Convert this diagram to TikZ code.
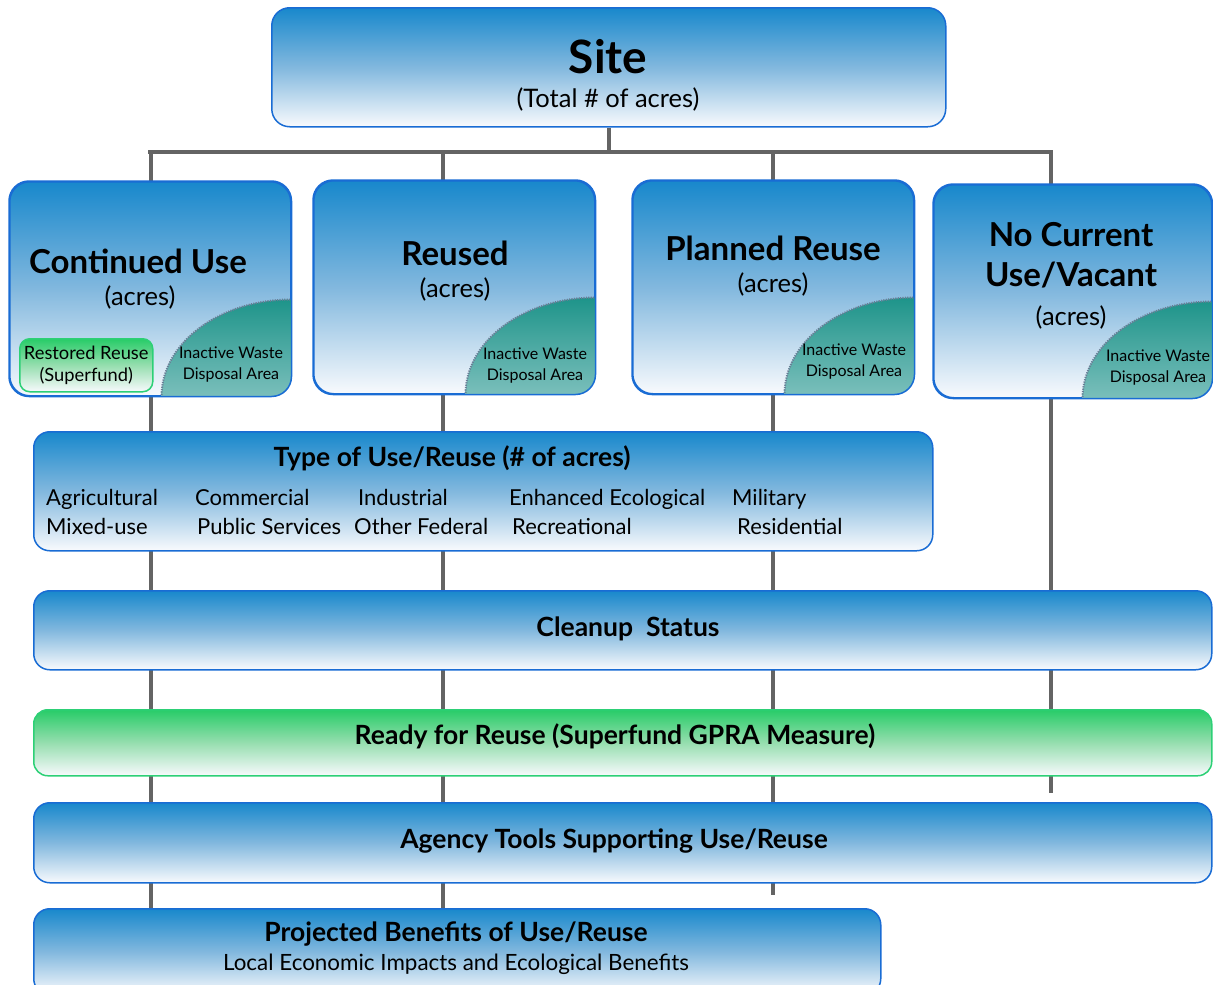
\documentclass[tikz,border=0pt]{standalone}
\usepackage{fontspec}
\setmainfont{Lato}
\usetikzlibrary{backgrounds}

\definecolor{boxblue}{RGB}{24,136,204}
\definecolor{boxmid}{RGB}{130,184,222}
\definecolor{boxpale}{RGB}{248,250,253}
\definecolor{edgeblue}{RGB}{25,108,212}
\definecolor{leafgreen}{RGB}{40,204,104}
\definecolor{leafmid}{RGB}{150,222,175}
\definecolor{edgegreen}{RGB}{45,208,118}
\definecolor{wastetop}{RGB}{30,148,138}
\definecolor{wastebot}{RGB}{215,234,236}
\definecolor{wasteedge}{RGB}{105,125,150}
\definecolor{linkgray}{RGB}{100,100,100}

\tikzset{
  panel/.style={draw=edgeblue, line width=1.5pt, rounded corners=#1,
    top color=boxblue, bottom color=boxpale, middle color=boxmid,
    inner sep=0pt, anchor=north west},
  panel/.default=16pt,
  greenpanel/.style={draw=edgegreen, line width=1.5pt, rounded corners=#1,
    top color=leafgreen, bottom color=boxpale, middle color=leafmid,
    inner sep=0pt, anchor=north west},
  greenpanel/.default=14pt,
  rim/.style={draw=edgeblue, line width=1.5pt, rounded corners=20pt},
  waste/.style={top color=wastetop, bottom color=wastebot},
  wasterim/.style={draw=wasteedge, line width=2pt, dash pattern=on 1.2pt off 1.2pt},
  link/.style={draw=linkgray, line width=4pt},
  label/.style={inner sep=0pt, text=black},
  bigtitle/.style={label, font=\bfseries\fontsize{46}{50}\selectfont},
  coltitle/.style={label, font=\bfseries\fontsize{33}{40}\selectfont, align=center},
  sub/.style={label, font=\fontsize{25.5}{30}\selectfont},
  wastetext/.style={label, font=\fontsize{16}{21}\selectfont, align=center},
  bartitle/.style={label, font=\bfseries\fontsize{26.5}{30}\selectfont},
  item/.style={label, font=\fontsize{22}{26}\selectfont, anchor=mid west},
}

\newcommand{\wastecorner}[1]{%
  \begin{scope}
    \clip[rounded corners=20pt] (#1.south west) rectangle (#1.north east);
    \shade[waste] (#1.south east) ellipse [x radius=130, y radius=97];
    \draw[wasterim] (#1.south east) ellipse [x radius=130, y radius=97];
  \end{scope}
  \draw[rim] (#1.south west) rectangle (#1.north east);}

\begin{document}
\begin{tikzpicture}[x=1pt, y=-1pt]
\useasboundingbox (0,0) rectangle (1213,985);

% top box
\node[panel=18pt, minimum width=674pt, minimum height=119pt] (site) at (271,7) {};
\node[bigtitle] (sitet) at (608,57) {Site};
\node[sub] (sites) at (608,99) {(Total \# of acres)};

% the four land-use columns
\node[panel=20pt, minimum width=281pt, minimum height=214pt] (cu) at (9,181) {};
\node[panel=20pt, minimum width=281pt, minimum height=213pt] (ru) at (313,180) {};
\node[panel=20pt, minimum width=281pt, minimum height=213pt] (pr) at (632,180) {};
\node[panel=20pt, minimum width=278pt, minimum height=213pt] (nc) at (933,184) {};

\wastecorner{cu}
\wastecorner{ru}
\wastecorner{pr}
\wastecorner{nc}

\node[coltitle] (cut) at (138,261) {Continued Use};
\node[sub] (cus) at (140,297) {(acres)};
\node[coltitle] (rut) at (455,253) {Reused};
\node[sub] (rus) at (455,289) {(acres)};
\node[coltitle] (prt) at (773,248) {Planned Reuse};
\node[sub] (prs) at (773,284) {(acres)};
\node[coltitle] (nct) at (1071,255) {No Current\\Use/Vacant};
\node[sub] (ncs) at (1071,317) {(acres)};

\node[wastetext] (cuw) at (231,365) {Inactive Waste\\Disposal Area};
\node[wastetext] (ruw) at (535,366) {Inactive Waste\\Disposal Area};
\node[wastetext] (prw) at (854,362) {Inactive Waste\\Disposal Area};
\node[wastetext] (ncw) at (1158,368) {Inactive Waste\\Disposal Area};

\node[greenpanel=10pt, minimum width=133pt, minimum height=53pt] (rr) at (19,338) {};
\node[wastetext, font=\fontsize{18.3}{22}\selectfont] (rrt) at (rr.center) {Restored Reuse\\(Superfund)};

% type of use
\node[panel, minimum width=899pt, minimum height=119pt] (tu) at (33,431) {};
\node[bartitle] (tut) at (452,458) {Type of Use/Reuse (\# of acres)};
\node[item] (i1) at (46,503) {Agricultural};
\node[item] (i2) at (195,503) {Commercial};
\node[item] (i3) at (358,503) {Industrial};
\node[item] (i4) at (509,503) {Enhanced Ecological};
\node[item] (i5) at (732,503) {Military};
\node[item] (i6) at (46,532) {Mixed-use};
\node[item] (i7) at (197,532) {Public Services};
\node[item] (i8) at (354,532) {Other Federal};
\node[item] (i9) at (512,532) {Recreational};
\node[item] (i10) at (737,532) {Residential};

% horizontal bands
\node[panel, minimum width=1178pt, minimum height=79pt] (cs) at (33,590) {};
\node[bartitle] (cst) at (628,629) {Cleanup\ \ Status};
\node[greenpanel, minimum width=1178pt, minimum height=66pt] (rfr) at (33,709) {};
\node[bartitle] (rfrt) at (615,736) {Ready for Reuse (Superfund GPRA Measure)};
\node[panel, minimum width=1178pt, minimum height=80pt] (at) at (33,802) {};
\node[bartitle] (att) at (614,841) {Agency Tools Supporting Use/Reuse};
\node[panel, minimum width=847pt, minimum height=86pt] (pb) at (33,908) {};
\node[bartitle] (pbt) at (456,934) {Projected Benefits of Use/Reuse};
\node[sub, font=\fontsize{22.4}{26}\selectfont] (pbs) at (456,964) {Local Economic Impacts and Ecological Benefits};

\coordinate (bus) at (0,152);
\coordinate (prend) at (773,895);
\coordinate (ncend) at (1051,793);

\begin{scope}[on background layer]
  \draw[link] (site.south) -- (site.south |- bus);
  \draw[link] (148,152) -- (1053,152);
  \draw[link] (151,152) -- (151,181);
  \draw[link] (443,152) -- (443,180);
  \draw[link] (773,152) -- (773,180);
  \draw[link] (1051,152) -- (1051,184);
  \draw[link] (cu.south -| 151,0) -- (pb.north -| 151,0);
  \draw[link] (ru.south -| 443,0) -- (pb.north -| 443,0);
  \draw[link] (pr.south -| 773,0) -- (prend);
  \draw[link] (nc.south -| ncend) -- (ncend);
\end{scope}
\end{tikzpicture}
\end{document}
